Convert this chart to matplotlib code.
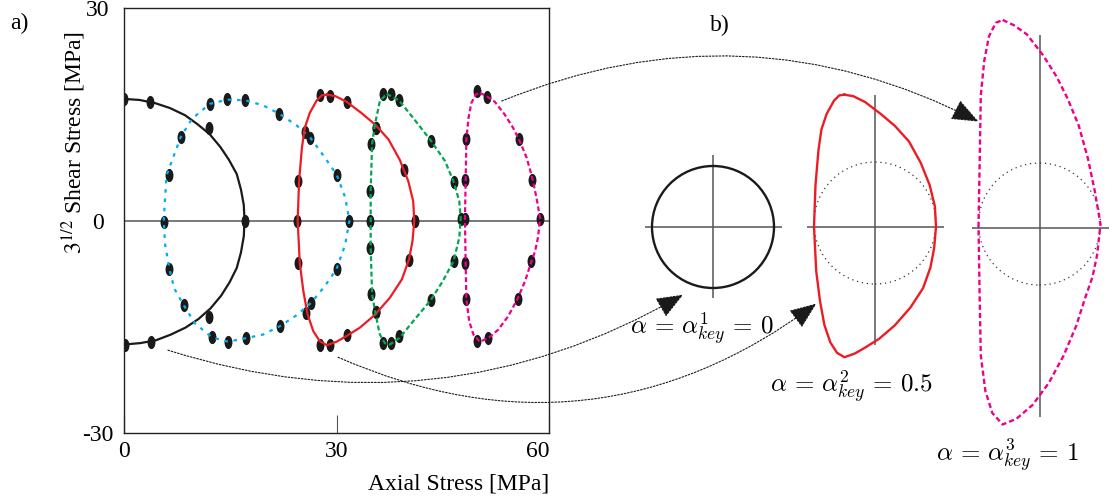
import numpy as np
import matplotlib
matplotlib.use('Agg')
import matplotlib.pyplot as plt
from matplotlib.path import Path
from matplotlib.transforms import Affine2D
from matplotlib.patches import Circle, ConnectionPatch

plt.rcParams['font.family'] = ['Liberation Serif', 'DejaVu Serif']
plt.rcParams['mathtext.fontset'] = 'stix'

# ---------------- data (panel a) ----------------
# experimental points
black_pts_x = [0.0, 3.6, 12.0, 17.0, 12.0, 3.8, 0.2]
black_pts_y = [17.2, 16.8, 13.1, 0.0, -13.6, -17.1, -17.5]

blue_pts_x = [12.1, 14.6, 17.1, 21.9, 26.3, 30.0, 31.8, 30.0, 26.4, 22.0, 17.2, 14.7, 12.4, 8.4, 6.4, 5.6, 6.3, 8.0]
blue_pts_y = [16.5, 17.2, 17.0, 15.1, 11.7, 6.5, 0.0, -6.8, -11.6, -14.9, -16.6, -17.1, -16.5, -11.9, -6.8, -0.2, 6.4, 11.8]

red_pts_x = [27.7, 29.0, 31.5, 35.6, 39.5, 41.0, 40.2, 35.5, 31.5, 29.0, 27.7, 25.7, 24.6, 24.4, 24.6, 25.6]
red_pts_y = [17.8, 17.6, 16.8, 13.1, 7.1, 0.0, -5.5, -12.9, -16.2, -17.5, -17.5, -13.0, -6.0, 0.0, 5.6, 12.5]

green_pts_x = [36.6, 37.7, 38.8, 43.3, 46.5, 47.5, 46.5, 43.3, 38.8, 37.7, 36.6, 35.5, 34.9, 34.7, 34.7, 34.7, 34.9, 35.6]
green_pts_y = [17.9, 17.9, 17.0, 11.3, 5.5, 0.3, -5.7, -11.2, -16.3, -17.3, -17.3, -12.9, -10.4, -3.8, 0.0, 4.2, 10.8, 13.1]

magenta_pts_x = [49.8, 51.2, 55.7, 57.6, 58.7, 57.4, 55.6, 51.3, 49.8, 48.2, 48.1, 48.1, 48.1, 48.2]
magenta_pts_y = [18.3, 17.4, 11.6, 5.8, 0.2, -5.7, -11.0, -16.6, -17.0, -11.1, -6.0, 0.2, 5.7, 11.5]

# model curves
black_curve_x = [0.0, 2.2, 4.4, 6.5, 8.6, 10.4, 12.1, 13.6, 14.8, 15.9, 16.5, 16.9, 17.0,
                 16.9, 16.5, 15.9, 14.9, 13.7, 12.2, 10.5, 8.7, 6.6, 4.5, 2.3, 0.0]
black_curve_y = [17.2, 17.05, 16.6, 15.9, 14.9, 13.6, 12.2, 10.4, 8.6, 6.6, 4.4, 2.2, 0.0,
                 -2.2, -4.5, -6.7, -8.7, -10.6, -12.4, -13.9, -15.1, -16.1, -16.9, -17.3, -17.5]

blue_curve_x = [5.6, 6.0, 8.0, 9.6, 12.1, 14.6, 17.1, 19.6, 21.9, 24.3, 26.3, 28.2, 30.0, 31.2, 31.8,
                31.2, 30.0, 28.3, 26.4, 24.3, 22.0, 19.6, 17.2, 14.7, 12.4, 10.0, 8.4, 7.1, 6.4, 5.8, 5.6]
blue_curve_y = [0.0, 6.4, 11.8, 14.4, 16.5, 17.1, 17.0, 16.3, 15.1, 13.5, 11.7, 9.1, 6.5, 3.3, 0.0,
                -3.4, -6.8, -9.3, -11.6, -13.4, -14.9, -16.1, -16.6, -17.1, -16.5, -14.5, -11.9, -9.6, -6.8, -3.4, 0.0]

red_curve_x = [28.6, 29.8, 31.4, 33.5, 35.4, 37.3, 38.9, 40.1, 40.8, 40.95, 40.7, 40.2, 39.2, 37.5,
               35.4, 33.3, 31.4, 30.0, 28.6, 27.6, 26.7, 25.9, 25.3, 24.8, 24.5, 24.7, 25.1,
               25.5, 26.2, 27.2, 27.9, 28.6]
red_curve_y = [17.8, 17.6, 16.8, 15.2, 13.6, 11.5, 8.6, 5.6, 2.75, 0.0, -2.9, -5.5, -8.3, -10.9,
               -13.3, -15.1, -16.3, -17.1, -17.6, -17.0, -15.6, -13.25, -9.95, -6.0, 0.0, 5.6, 10.3,
               13.1, 15.2, 17.0, 17.7, 17.8]

green_curve_x = [37.05, 38.8, 40.8, 43.3, 45.3, 46.5, 47.3, 47.5, 47.3, 46.5, 45.0, 43.3, 40.8, 38.9,
                 37.5, 36.8, 36.1, 35.5, 35.0, 34.8, 34.8, 34.8, 35.0, 35.4, 36.1, 37.05]
green_curve_y = [17.9, 17.0, 14.5, 11.3, 8.4, 5.5, 2.75, 0.3, -2.4, -5.7, -8.5, -11.2, -14.2, -16.55,
                 -17.5, -17.3, -16.1, -13.25, -10.4, -3.8, 0.0, 4.2, 10.8, 13.6, 16.9, 17.9]

magenta_curve_x = [50.2, 51.16, 52.3, 53.7, 54.9, 55.85, 56.8, 57.6, 58.2, 58.7, 58.4, 58.0, 57.4, 56.6,
                   55.5, 54.2, 52.8, 51.4, 50.2, 49.3, 48.7, 48.3, 48.2, 48.1, 48.2, 48.3, 48.6,
                   49.0, 49.6, 50.2]
magenta_curve_y = [18.05, 17.6, 16.8, 15.0, 13.1, 11.2, 8.9, 6.05, 3.2, 0.3, -2.4, -4.3, -6.0, -8.5,
                   -11.1, -13.5, -15.4, -16.6, -17.1, -16.1, -14.2, -11.1, -6.0, 0.2, 5.6, 11.5, 14.5,
                   16.6, 17.8, 18.05]

x_ticks = [0, 30, 60]
x_ticklabels = ['0', '30', '60']
y_ticks = [-30, 0, 30]
y_ticklabels = ['-30', '0', '30']

labels_b = [r'$\alpha\,=\,\alpha^{1}_{key}\,=\,0$',
            r'$\alpha\,=\,\alpha^{2}_{key}\,=\,0.5$',
            r'$\alpha\,=\,\alpha^{3}_{key}\,=\,1$']

C_BLACK = '#1a1a1a'
C_BLUE = '#00AEEF'
C_RED = '#ED1C24'
C_GREEN = '#00A651'
C_MAG = '#EC008C'
C_AX = '#555555'

W, H = 1115, 500
fig = plt.figure(figsize=(W / 100, H / 100), dpi=100)


def px_rect(l, t, r, b):
    return [l / W, 1 - b / H, (r - l) / W, (b - t) / H]


ax = fig.add_axes(px_rect(124, 8.3, 549.3, 433))
ax.set_xlim(0, 60)
ax.set_ylim(-30, 30)
ax.axhline(0, color=C_AX, lw=1.1, zorder=1)

ell = Path.unit_circle().transformed(Affine2D().scale(0.6, 1.0))

dash_blue = (0, (1.6, 2.6))
dash_gm = (0, (2.2, 1.3))

series = [
    (black_pts_x, black_pts_y, black_curve_x, black_curve_y, C_BLACK, '-'),
    (blue_pts_x, blue_pts_y, blue_curve_x, blue_curve_y, C_BLUE, dash_blue),
    (red_pts_x, red_pts_y, red_curve_x, red_curve_y, C_RED, '-'),
    (green_pts_x, green_pts_y, green_curve_x, green_curve_y, C_GREEN, dash_gm),
    (magenta_pts_x, magenta_pts_y, magenta_curve_x, magenta_curve_y, C_MAG, dash_gm),
]
for px_, py_, cx_, cy_, col, ls in series:
    ax.plot(px_, py_, ls='none', marker=ell, markersize=9.5, color=C_BLACK,
            markeredgewidth=0, zorder=2)
    ax.plot(cx_, cy_, color=col, ls=ls, lw=1.6, zorder=3,
            solid_joinstyle='round', dash_joinstyle='round')

ax.set_xticks(x_ticks)
ax.set_xticklabels(x_ticklabels)
ax.set_yticks(y_ticks)
ax.set_yticklabels(y_ticklabels)
ax.tick_params(axis='x', direction='in', length=13, width=0.8, color=C_AX,
               pad=6, labelsize=17, top=False)
ax.tick_params(axis='y', length=0, pad=19, labelsize=17, right=False)
for t in ax.get_yticklabels():
    t.set_ha('center')
ax.get_xticklabels()[-1].set_ha('right')
for s in ax.spines.values():
    s.set_linewidth(1.0)
    s.set_color('#222222')

ax.set_xlabel('Axial Stress [MPa]', loc='right', fontsize=17, labelpad=8)
ax.set_ylabel(r'$3^{1/2}$ Shear Stress [MPa]', fontsize=17)
ax.yaxis.set_label_coords(-0.085, 0.685)

fig.text(19 / W, 1 - 23 / H, 'a)', ha='center', va='center', fontsize=17)
fig.text(720 / W, 1 - 25 / H, 'b)', ha='center', va='center', fontsize=17)

# ---------------- panel b ----------------
S = 61.0


def b_axes(cx, cy, xl, yl):
    rect = px_rect(cx + xl[0] * S, cy - yl[1] * S, cx + xl[1] * S, cy - yl[0] * S)
    a = fig.add_axes(rect)
    a.set_xlim(*xl)
    a.set_ylim(*yl)
    a.axis('off')
    a.axhline(0, color=C_AX, lw=1.1, zorder=1)
    a.axvline(0, color=C_AX, lw=1.1, zorder=1)
    return a


def normalized(xs, ys):
    xs = np.asarray(xs, float)
    ys = np.asarray(ys, float)
    mid = (xs.max() + xs.min()) / 2
    hw = (xs.max() - xs.min()) / 2
    return (xs - mid) / hw, ys / hw


axb1 = b_axes(713, 227, (-1.115, 1.126), (-1.16, 1.18))
axb1.add_patch(Circle((0, 0), 1.0, fill=False, lw=1.7, ec=C_BLACK, zorder=3))

axb2 = b_axes(875, 226.7, (-1.12, 1.13), (-1.94, 2.16))
axb2.add_patch(Circle((0, 0.06), 1.0, fill=False, lw=0.9, ec='#333333', ls=(0, (1, 3)), zorder=2))
rx, ry = normalized(red_curve_x, red_curve_y)
axb2.plot(rx, ry, color=C_RED, lw=1.7, clip_on=False, zorder=3, solid_joinstyle='round')

axb3 = b_axes(1039.5, 227.7, (-1.10, 1.14), (-3.10, 3.16))
axb3.add_patch(Circle((0, 0.06), 1.0, fill=False, lw=0.9, ec='#333333', ls=(0, (1, 3)), zorder=2))
mx, my = normalized(magenta_curve_x, magenta_curve_y)
axb3.plot(mx, my, color=C_MAG, lw=1.7, ls=dash_gm, clip_on=False, zorder=3)

fig.text(702 / W, 1 - 335 / H, labels_b[0], ha='center', va='baseline',
         fontsize=18, math_fontfamily='cm')
fig.text(852 / W, 1 - 392.7 / H, labels_b[1], ha='center', va='baseline',
         fontsize=18, math_fontfamily='cm')
fig.text(1007.5 / W, 1 - 461.7 / H, labels_b[2], ha='center', va='baseline',
         fontsize=18, math_fontfamily='cm')

# ---------------- connecting arrows ----------------
arrow_kw = dict(arrowstyle='-|>,head_length=1.0,head_width=0.4', mutation_scale=17,
                lw=0.8, ls=(0, (1.5, 1.5)), color='#1a1a1a', fc='#1a1a1a')

con1 = ConnectionPatch(xyA=(53.3, 16.9), coordsA=ax.transData,
                       xyB=(-1.0, 1.74), coordsB=axb3.transData,
                       connectionstyle='arc3,rad=-0.23', **arrow_kw)
con2 = ConnectionPatch(xyA=(6.2, -18.3), coordsA=ax.transData,
                       xyB=(-0.49, -1.11), coordsB=axb1.transData,
                       connectionstyle='arc3,rad=0.22', **arrow_kw)
con3 = ConnectionPatch(xyA=(30.2, -19.3), coordsA=ax.transData,
                       xyB=(-0.96, -1.26), coordsB=axb2.transData,
                       connectionstyle='arc3,rad=0.29', **arrow_kw)
for c in (con1, con2, con3):
    fig.add_artist(c)

fig.savefig('out.png', dpi=100)
